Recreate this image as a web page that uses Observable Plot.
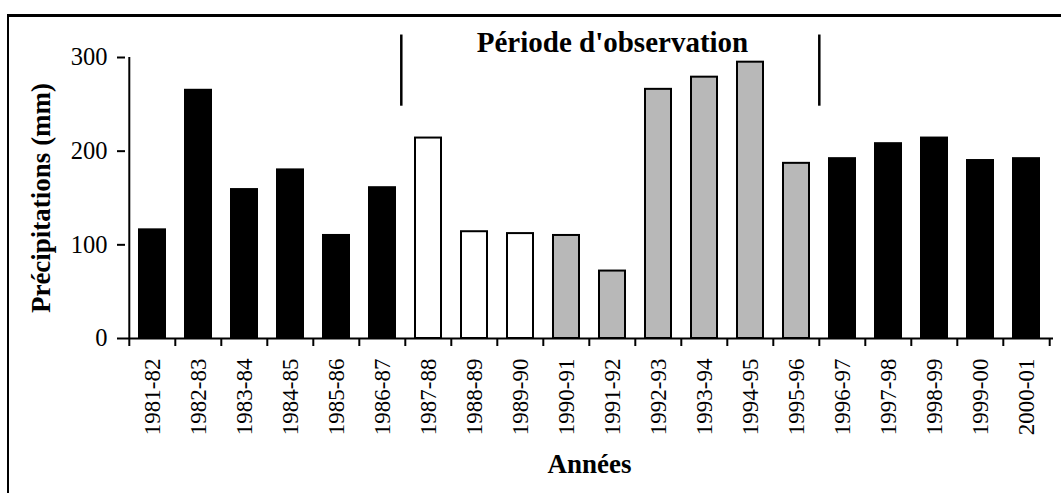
<!DOCTYPE html>
<html><head><meta charset="utf-8">
<script src="https://cdn.jsdelivr.net/npm/d3@7"></script>
<script src="https://cdn.jsdelivr.net/npm/@observablehq/plot@0.6"></script>
<style>
body{margin:0;background:#fff;}
#wrap{position:relative;width:1061px;height:493px;overflow:hidden;background:#fff;}
#wrap svg{position:absolute;left:0;top:0;}
#frame{position:absolute;left:7px;top:14px;right:-10px;bottom:-10px;border-left:2px solid #000;border-top:3px solid #000;pointer-events:none;}
#wrap svg g[aria-label="x-axis tick label"] text{font-size:23px;}
#wrap svg g[aria-label="y-axis tick label"] text{font-size:24.5px;}
</style></head><body><div id="wrap"><div id="frame"></div></div>
<script>
// ---- data ----
const years = ["1981-82","1982-83","1983-84","1984-85","1985-86","1986-87","1987-88","1988-89","1989-90","1990-91","1991-92","1992-93","1993-94","1994-95","1995-96","1996-97","1997-98","1998-99","1999-00","2000-01"];
const precip = [116,265,159,180,110,161,214,114,112,110,72,266,279,295,187,192,208,214,190,192];
const periods = ["hors","hors","hors","hors","hors","hors","obsA","obsA","obsA","obsB","obsB","obsB","obsB","obsB","obsB","hors","hors","hors","hors","hors"];
const periodKeys = ["hors","obsA","obsB"];
const periodColors = ["#000000","#ffffff","#b8b8b8"];
const yTicks = [0,100,200,300];
const yLabel = "Précipitations (mm)";
const xLabel = "Années";
const titleText = "Période d'observation";
const titleAt = "1991-92";
const titleY = 316;
const periodStart = "1987-88";
const periodEnd = "1996-97";
const boundLineLow = 248, boundLineHigh = 324;

// ---- chart ----
const W = 1061, H = 493, mL = 125, mR = 8, mT = 57, mB = 155;
const step = (W - mL - mR) / years.length;
const data = years.map((y, i) => ({year: y, value: precip[i], period: periods[i]}));
const font = "'Liberation Serif', 'Times New Roman', Times, serif";

const chart = Plot.plot({
  width: W, height: H,
  marginLeft: mL, marginRight: mR, marginTop: mT, marginBottom: mB,
  style: {fontFamily: font, fontSize: "23px", background: "transparent", color: "#000"},
  x: {domain: years, paddingInner: 0.44, paddingOuter: 0.22, label: null},
  y: {domain: [0, 300], label: null},
  color: {domain: periodKeys, range: periodColors},
  marks: [
    Plot.barY(data, {x: "year", y: "value", fill: "period", stroke: "#000", strokeWidth: 2}),
    Plot.ruleY([0], {stroke: "#000", strokeWidth: 2}),
    Plot.ruleX([years[0]], {y1: 0, y2: 300, dx: -step / 2, stroke: "#000", strokeWidth: 2}),
    Plot.ruleX(years, {y1: 0, y2: 0, dx: -step / 2, insetBottom: -8, stroke: "#000", strokeWidth: 2}),
    Plot.ruleX([years[years.length - 1]], {y1: 0, y2: 0, dx: step / 2, insetBottom: -8, stroke: "#000", strokeWidth: 2}),
    Plot.ruleX([periodStart], {y1: boundLineLow, y2: boundLineHigh, dx: -step / 2 - 4, stroke: "#000", strokeWidth: 2.5}),
    Plot.ruleX([periodEnd], {y1: boundLineLow, y2: boundLineHigh, dx: -step / 2, stroke: "#000", strokeWidth: 2.5}),
    Plot.axisY({ticks: yTicks, tickSize: 8, tickPadding: 10, fontSize: 24.5, strokeWidth: 2, label: null}),
    Plot.axisX({tickSize: 0, tickPadding: 20, tickRotate: -90, fontSize: 23, label: null}),
    Plot.text([{t: titleText, at: titleAt, v: titleY}], {x: "at", y: "v", text: "t", fontSize: 29, fontWeight: "bold"}),
    Plot.text([yLabel], {text: d => d, frameAnchor: "left", textAnchor: "middle", lineAnchor: "middle", rotate: -90, dx: -84, fontSize: 27, fontWeight: "bold"}),
    Plot.text([xLabel], {text: d => d, frameAnchor: "bottom", textAnchor: "middle", lineAnchor: "middle", dy: 126, fontSize: 27, fontWeight: "bold"})
  ]
});
document.getElementById("wrap").prepend(chart);
</script></body></html>
